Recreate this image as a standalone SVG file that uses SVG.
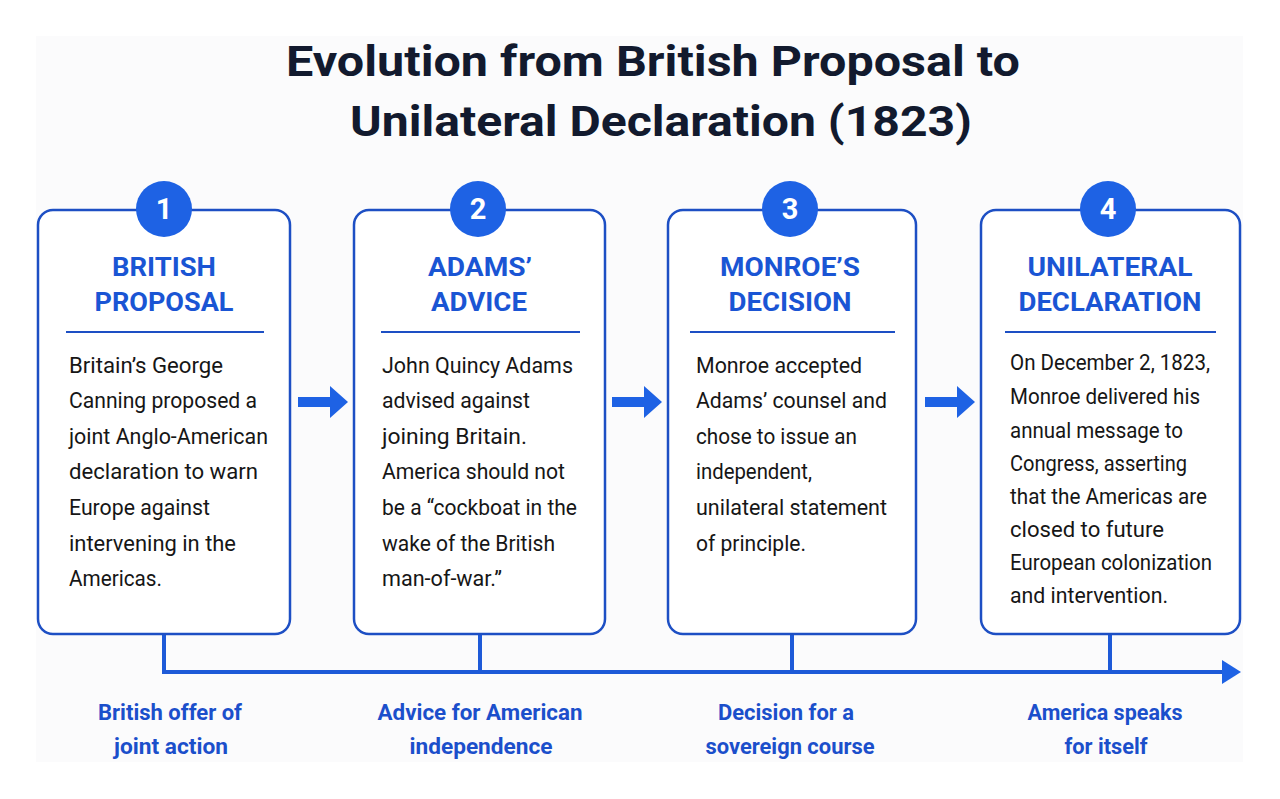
<svg xmlns="http://www.w3.org/2000/svg" width="1280" height="799" viewBox="0 0 1280 799">
<style>
.title{font-family:Roboto,"Liberation Sans",sans-serif;font-weight:700;font-size:42px;fill:#121a2e;text-anchor:middle}
.box{fill:#ffffff;stroke:#1d4fc4;stroke-width:2.5}
.num{fill:#1e62e4}
.numt{font-family:Roboto,"Liberation Sans",sans-serif;font-weight:700;font-size:29px;fill:#ffffff;text-anchor:middle}
.head{font-family:Roboto,"Liberation Sans",sans-serif;font-weight:700;font-size:26px;fill:#1a55d4;text-anchor:middle}
.div{stroke:#1d4fc4;stroke-width:2}
.body{font-family:Roboto,"Liberation Sans",sans-serif;font-size:21.5px;fill:#161616}
.lab{font-family:Roboto,"Liberation Sans",sans-serif;font-weight:700;font-size:22px;fill:#1b4fcb;text-anchor:middle}
.arr{fill:#1e62e4}
.tl{stroke:#1e5ad8;stroke-width:4;fill:none}
</style>
<rect x="0" y="0" width="1280" height="799" fill="#ffffff"/>
<rect x="36" y="36" width="1207" height="726" fill="#fbfbfc"/>
<g id="title">
<text class="title" x="653" y="76" textLength="734" lengthAdjust="spacingAndGlyphs">Evolution from British Proposal to</text>
<text class="title" x="661" y="136" textLength="622" lengthAdjust="spacingAndGlyphs">Unilateral Declaration (1823)</text>
</g>
<g id="connectors">
<polygon class="arr" points="298,397 330,397 330,386 348,402 330,418 330,407 298,407"/>
<polygon class="arr" points="612,397 644,397 644,386 662,402 644,418 644,407 612,407"/>
<polygon class="arr" points="925,397 957,397 957,386 975,402 957,418 957,407 925,407"/>
<path class="tl" d="M164,634 V672 H1224 M480,634 V672 M792,634 V672 M1110,634 V672"/>
<polygon class="arr" points="1222,660 1241,672 1222,684"/>
</g>
<g id="node1">
<rect class="box" x="38" y="210" width="252" height="424" rx="15"/>
<circle class="num" cx="164" cy="209" r="28"/>
<text class="numt" x="164" y="219">1</text>
<text class="head" x="164" y="276" textLength="104" lengthAdjust="spacingAndGlyphs">BRITISH</text>
<text class="head" x="164" y="311" textLength="139" lengthAdjust="spacingAndGlyphs">PROPOSAL</text>
<line class="div" x1="66" y1="332" x2="264" y2="332"/>
<text class="body" x="69" y="373" textLength="154" lengthAdjust="spacingAndGlyphs">Britain’s George</text>
<text class="body" x="69" y="408" textLength="188" lengthAdjust="spacingAndGlyphs">Canning proposed a</text>
<text class="body" x="69" y="444" textLength="199" lengthAdjust="spacingAndGlyphs">joint Anglo-American</text>
<text class="body" x="69" y="479" textLength="189" lengthAdjust="spacingAndGlyphs">declaration to warn</text>
<text class="body" x="69" y="515" textLength="141" lengthAdjust="spacingAndGlyphs">Europe against</text>
<text class="body" x="69" y="551" textLength="167" lengthAdjust="spacingAndGlyphs">intervening in the</text>
<text class="body" x="69" y="586" textLength="93" lengthAdjust="spacingAndGlyphs">Americas.</text>
</g>
<g id="node2">
<rect class="box" x="354" y="210" width="251" height="424" rx="15"/>
<circle class="num" cx="478" cy="209" r="28"/>
<text class="numt" x="478" y="219">2</text>
<text class="head" x="480" y="276" textLength="104" lengthAdjust="spacingAndGlyphs">ADAMS’</text>
<text class="head" x="479" y="311" textLength="96" lengthAdjust="spacingAndGlyphs">ADVICE</text>
<line class="div" x1="381" y1="332" x2="580" y2="332"/>
<text class="body" x="382" y="373" textLength="191" lengthAdjust="spacingAndGlyphs">John Quincy Adams</text>
<text class="body" x="382" y="408" textLength="148" lengthAdjust="spacingAndGlyphs">advised against</text>
<text class="body" x="382" y="444" textLength="145" lengthAdjust="spacingAndGlyphs">joining Britain.</text>
<text class="body" x="382" y="479" textLength="183" lengthAdjust="spacingAndGlyphs">America should not</text>
<text class="body" x="382" y="515" textLength="195" lengthAdjust="spacingAndGlyphs">be a “cockboat in the</text>
<text class="body" x="382" y="551" textLength="173" lengthAdjust="spacingAndGlyphs">wake of the British</text>
<text class="body" x="382" y="586" textLength="120" lengthAdjust="spacingAndGlyphs">man-of-war.”</text>
</g>
<g id="node3">
<rect class="box" x="668" y="210" width="248" height="424" rx="15"/>
<circle class="num" cx="790" cy="209" r="28"/>
<text class="numt" x="790" y="219">3</text>
<text class="head" x="790" y="276" textLength="140" lengthAdjust="spacingAndGlyphs">MONROE’S</text>
<text class="head" x="790" y="311" textLength="123" lengthAdjust="spacingAndGlyphs">DECISION</text>
<line class="div" x1="690" y1="332" x2="895" y2="332"/>
<text class="body" x="696" y="373" textLength="166" lengthAdjust="spacingAndGlyphs">Monroe accepted</text>
<text class="body" x="696" y="408" textLength="191" lengthAdjust="spacingAndGlyphs">Adams’ counsel and</text>
<text class="body" x="696" y="444" textLength="161" lengthAdjust="spacingAndGlyphs">chose to issue an</text>
<text class="body" x="696" y="479" textLength="116" lengthAdjust="spacingAndGlyphs">independent,</text>
<text class="body" x="696" y="515" textLength="191" lengthAdjust="spacingAndGlyphs">unilateral statement</text>
<text class="body" x="696" y="551" textLength="110" lengthAdjust="spacingAndGlyphs">of principle.</text>
</g>
<g id="node4">
<rect class="box" x="981" y="210" width="259" height="424" rx="15"/>
<circle class="num" cx="1108" cy="209" r="28"/>
<text class="numt" x="1108" y="219">4</text>
<text class="head" x="1110" y="276" textLength="165" lengthAdjust="spacingAndGlyphs">UNILATERAL</text>
<text class="head" x="1110" y="311" textLength="183" lengthAdjust="spacingAndGlyphs">DECLARATION</text>
<line class="div" x1="1005" y1="332" x2="1216" y2="332"/>
<text class="body" x="1010" y="370" textLength="200" lengthAdjust="spacingAndGlyphs">On December 2, 1823,</text>
<text class="body" x="1010" y="404" textLength="190" lengthAdjust="spacingAndGlyphs">Monroe delivered his</text>
<text class="body" x="1010" y="438" textLength="173" lengthAdjust="spacingAndGlyphs">annual message to</text>
<text class="body" x="1010" y="471" textLength="177" lengthAdjust="spacingAndGlyphs">Congress, asserting</text>
<text class="body" x="1010" y="504" textLength="197" lengthAdjust="spacingAndGlyphs">that the Americas are</text>
<text class="body" x="1010" y="537" textLength="154" lengthAdjust="spacingAndGlyphs">closed to future</text>
<text class="body" x="1010" y="570" textLength="202" lengthAdjust="spacingAndGlyphs">European colonization</text>
<text class="body" x="1010" y="603" textLength="158" lengthAdjust="spacingAndGlyphs">and intervention.</text>
</g>
<g id="labels">
<text class="lab" x="170" y="720" textLength="144" lengthAdjust="spacingAndGlyphs">British offer of</text>
<text class="lab" x="171" y="754" textLength="114" lengthAdjust="spacingAndGlyphs">joint action</text>
<text class="lab" x="480" y="720" textLength="205" lengthAdjust="spacingAndGlyphs">Advice for American</text>
<text class="lab" x="481" y="754" textLength="143" lengthAdjust="spacingAndGlyphs">independence</text>
<text class="lab" x="786" y="720" textLength="136" lengthAdjust="spacingAndGlyphs">Decision for a</text>
<text class="lab" x="790" y="754" textLength="169" lengthAdjust="spacingAndGlyphs">sovereign course</text>
<text class="lab" x="1105" y="720" textLength="155" lengthAdjust="spacingAndGlyphs">America speaks</text>
<text class="lab" x="1106" y="754" textLength="83" lengthAdjust="spacingAndGlyphs">for itself</text>
</g>
</svg>
